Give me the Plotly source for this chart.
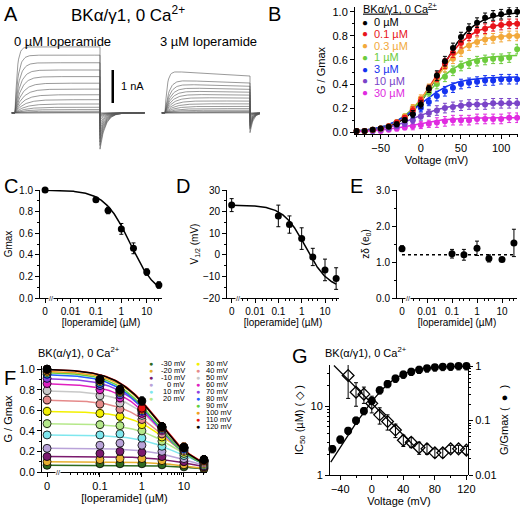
import numpy as np
import plotly.graph_objects as go

W, H = 520, 508
FONT = "Liberation Sans"

# ---------------- data ----------------
volt_B = [-80, -70, -60, -50, -40, -30, -20, -10, 0, 10, 20, 30, 40, 50, 60, 70, 80, 90, 100, 110, 120]
conc_labels = ["0 µM", "0.1 µM", "0.3 µM", "1 µM", "3 µM", "10 µM", "30 µM"]
conc_colors = ["#000000", "#e8141b", "#f2a93b", "#6ccb3c", "#1432f0", "#7a44c8", "#e02be0"]
gB = [
    [.01, .01, .02, .03, .045, .065, .10, .15, .23, .36, .47, .59, .70, .79, .86, .91, .95, .97, .98, 1.0, 1.0],
    [.01, .01, .02, .03, .05, .08, .12, .18, .26, .36, .46, .57, .66, .74, .80, .84, .86, .88, .89, .90, .90],
    [.01, .01, .02, .03, .05, .08, .13, .20, .28, .37, .45, .54, .61, .67, .72, .75, .77, .78, .79, .80, .80],
    [.01, .01, .02, .03, .05, .08, .13, .19, .26, .33, .40, .46, .51, .55, .57, .59, .60, .61, .61, .62, .69],
    [.01, .01, .02, .03, .05, .07, .11, .15, .20, .25, .30, .34, .37, .40, .41, .42, .43, .43, .44, .44, .44],
    [.01, .01, .01, .02, .03, .05, .07, .10, .13, .16, .18, .20, .21, .22, .23, .23, .23, .24, .24, .24, .24],
    [.005, .01, .01, .01, .02, .03, .04, .05, .06, .07, .08, .09, .10, .10, .10, .11, .11, .11, .11, .12, .12],
]
errB = [.01, .01, .01, .01, .01, .02, .02, .03, .03, .03, .04, .04, .04, .04, .04, .04, .04, .04, .04, .04, .04]

conc = [0, 0.1, 0.3, 1, 3, 10, 30]
gmax = [1.0, .91, .81, .64, .46, .24, .12]
gmax_err = [.01, .02, .03, .05, .05, .03, .03]
v_half = [23, 18, 14, 7.5, -1, -7, -11]
v_half_err = [3, 5, 4, 5, 4, 5, 5]
z_delta = [1.37, 1.23, 1.20, 1.38, 1.10, 1.07, 1.53]
z_delta_err = [.08, .12, .15, .20, .10, .05, .38]
z_boltz = 1.2

volt_F = [-30, -20, -10, 0, 10, 20, 30, 40, 50, 60, 70, 80, 90, 100, 110, 120]
colors_F = ["#2e6b1f", "#e8b030", "#7b1a6e", "#b9a3d9", "#7fe7ee", "#b5e88a", "#f3f000", "#e58a8a",
            "#c8c8c8", "#e020c0", "#9040e0", "#2060ff", "#60d040", "#f0a020", "#e81010", "#000000"]
ic50 = [28, 16, 15, 11, 7.5, 6, 4.5, 3.2, 3.0, 2.5, 2.4, 2.1, 2.1, 2.4, 2.4, 2.3]
ic50_err = [15, 6, 4, 3, 2, 1.5, 1, .6, .5, .5, .4, .3, .3, .3, .3, .3]
hill_F = 0.9

volt_G = [-50, -40, -30, -20, -10, 0, 10, 20, 30, 40, 50, 60, 70, 80, 90, 100, 110, 120]
g_G = [.03, .045, .065, .10, .15, .23, .36, .47, .59, .70, .79, .86, .91, .95, .97, .98, 1.0, 1.0]

amp_ctrl = [0, .02, .05, .1, .17, .27, .4, .55, .72, .9, 1.1, 1.3, 1.52, 1.75, 2.0]
amp_lop = [0, .02, .04, .08, .13, .2, .28, .37, .47, .57, .67, .77, .88, 1.0, 1.27]
tail_ctrl_peak = 1.1
tail_lop_peak = 0.6


def px(x, y):
    return x / W, 1 - y / H


def dom_x(a, b):
    return [a / W, b / W]


def dom_y(top, bot):
    return [1 - bot / H, 1 - top / H]


fig = go.Figure()
ann = []

# ---------------- A: current traces ----------------
t_on = np.linspace(0, 40, 120)
t_tail = np.linspace(0, 21, 80)
for block, amps, tailpk, off, droop in [(0, amp_ctrl, tail_ctrl_peak, 0, 0.0), (1, amp_lop, tail_lop_peak, 70.6, 0.12)]:
    amax = max(amps)
    for a in amps:
        tau = 1.0 + 4.0 * (1 - a / amax) if a > 0 else 3
        on = a * (1 - np.exp(-t_on / tau)) * (1 - droop * (t_on / 40) * (a / amax))
        tail = -tailpk * (a / amax) ** 0.8 * np.exp(-t_tail / (2.5 if block == 0 else 1.5))
        xs = np.concatenate([[-1.5 + off], t_on + off, t_tail + 40 + off])
        ys = np.concatenate([[0], on, tail])
        fig.add_trace(go.Scatter(x=xs, y=ys, mode="lines", line=dict(color="#555", width=0.6),
                                 xaxis="x", yaxis="y", showlegend=False, hoverinfo="skip"))
fig.add_trace(go.Scatter(x=[46, 46], y=[0.3, 1.3], mode="lines", line=dict(color="black", width=2.5),
                         xaxis="x", yaxis="y", showlegend=False))
ann.append(dict(x=49, y=0.8, xref="x", yref="y", text="1 nA", showarrow=False, xanchor="left",
                font=dict(size=11)))

# ---------------- B ----------------
vf = np.linspace(-80, 120, 200)
for i in range(7):
    fit = gmax[i] / (1 + np.exp(-z_boltz * (vf - v_half[i]) / 25.4))
    fig.add_trace(go.Scatter(x=vf, y=fit, mode="lines", line=dict(color=conc_colors[i], width=1.5),
                             xaxis="x2", yaxis="y2", showlegend=False))
for i in range(6, -1, -1):
    fig.add_trace(go.Scatter(x=volt_B, y=gB[i], mode="markers",
                             marker=dict(color=conc_colors[i], size=6),
                             error_y=dict(type="data", array=errB, color=conc_colors[i], thickness=1, width=2),
                             xaxis="x2", yaxis="y2", showlegend=False, cliponaxis=False))
bx, by = px(361, 8)
ann.append(dict(x=bx, y=by, xref="paper", yref="paper", text="<u>BKα/γ1, 0 Ca<sup>2+</sup></u>",
                showarrow=False, xanchor="left", font=dict(size=11)))
for i in range(7):
    x0, y0 = px(365, 22 + 11.8 * i)
    ann.append(dict(x=x0, y=y0, xref="paper", yref="paper", text="●", showarrow=False,
                    font=dict(size=10, color=conc_colors[i]), xanchor="center"))
    x1, _ = px(372, 0)
    ann.append(dict(x=x1, y=y0, xref="paper", yref="paper", text=conc_labels[i], showarrow=False,
                    font=dict(size=11, color=conc_colors[i]), xanchor="left"))

# ---------------- C, D, E ----------------
zero_CDE = 0.001
c_plot = [zero_CDE] + conc[1:]
cf = np.logspace(np.log10(zero_CDE), np.log10(30), 200)
fitC = 1 / (1 + (cf / 2.3) ** 0.85)
fitD = 23 - 39 * (cf / 1.5) ** 0.9 / (1 + (cf / 1.5) ** 0.9)
fig.add_trace(go.Scatter(x=cf, y=fitC, mode="lines", line=dict(color="black", width=1.5), xaxis="x3", yaxis="y3", showlegend=False))
fig.add_trace(go.Scatter(x=c_plot, y=gmax, mode="markers", marker=dict(color="black", size=7),
                         error_y=dict(type="data", array=gmax_err, color="black", thickness=1, width=2),
                         xaxis="x3", yaxis="y3", showlegend=False, cliponaxis=False))
fig.add_trace(go.Scatter(x=cf, y=fitD, mode="lines", line=dict(color="black", width=1.5), xaxis="x4", yaxis="y4", showlegend=False))
fig.add_trace(go.Scatter(x=c_plot, y=v_half, mode="markers", marker=dict(color="black", size=7),
                         error_y=dict(type="data", array=v_half_err, color="black", thickness=1, width=2),
                         xaxis="x4", yaxis="y4", showlegend=False, cliponaxis=False))
fig.add_trace(go.Scatter(x=[zero_CDE, 30], y=[1.2, 1.2], mode="lines", line=dict(color="black", width=1.5, dash="dot"),
                         xaxis="x5", yaxis="y5", showlegend=False))
fig.add_trace(go.Scatter(x=c_plot, y=z_delta, mode="markers", marker=dict(color="black", size=7),
                         error_y=dict(type="data", array=z_delta_err, color="black", thickness=1, width=2),
                         xaxis="x5", yaxis="y5", showlegend=False, cliponaxis=False))

# ---------------- F ----------------
zero_F = 0.0055
cF = [zero_F] + conc[1:]
cff = np.logspace(np.log10(zero_F), np.log10(30), 150)
for j in range(len(volt_F)):
    k = volt_B.index(volt_F[j])
    g0 = gB[0][k]
    fit = g0 / (1 + (cff / ic50[j]) ** hill_F)
    fig.add_trace(go.Scatter(x=cff, y=fit, mode="lines", line=dict(color=colors_F[j], width=1.5),
                             xaxis="x6", yaxis="y6", showlegend=False))
for j in range(len(volt_F)):
    k = volt_B.index(volt_F[j])
    ys = [gB[i][k] / gB[0][-1] for i in range(7)]
    fig.add_trace(go.Scatter(x=cF, y=ys, mode="markers",
                             marker=dict(color=colors_F[j], size=8, line=dict(color="black", width=0.8)),
                             error_y=dict(type="data", array=[errB[k]] * 7, color=colors_F[j], thickness=1, width=2),
                             xaxis="x6", yaxis="y6", showlegend=False, cliponaxis=False))
tx, ty = px(36, 352)
ann.append(dict(x=tx, y=ty, xref="paper", yref="paper", text="BK(α/γ1), 0 Ca<sup>2+</sup>", showarrow=False,
                xanchor="left", font=dict(size=11)))
for j in range(len(volt_F)):
    if j < 6:
        mx, lx, row = 151, 187, j
    else:
        mx, lx, row = 198, 204, j - 6
    yy = 363 + 7.1 * row
    a, b = px(mx, yy)
    ann.append(dict(x=a, y=b, xref="paper", yref="paper", text="●", showarrow=False,
                    font=dict(size=7, color=colors_F[j]), xanchor="center"))
    a, _ = px(lx, 0)
    ann.append(dict(x=a, y=b, xref="paper", yref="paper", text=f"{volt_F[j]} mV", showarrow=False,
                    font=dict(size=7.5), xanchor="right" if j < 6 else "left"))

# ---------------- G ----------------
vl = np.linspace(-48, 55, 50)
fig.add_trace(go.Scatter(x=vl, y=11 * 10 ** (-vl / 87), mode="lines", line=dict(color="black", width=1.3),
                         xaxis="x7", yaxis="y7", showlegend=False))
fig.add_trace(go.Scatter(x=volt_F, y=ic50, mode="markers",
                         marker=dict(symbol="diamond-open", color="black", size=9, line=dict(width=1.3)),
                         error_y=dict(type="data", array=ic50_err, color="black", thickness=1, width=2),
                         xaxis="x7", yaxis="y7", showlegend=False))
vg = np.linspace(-52, 121, 150)
fig.add_trace(go.Scatter(x=vg, y=1 / (1 + np.exp(-1.37 * (vg - 23) / 25.4)), mode="lines",
                         line=dict(color="black", width=1.3), xaxis="x7", yaxis="y8", showlegend=False))
fig.add_trace(go.Scatter(x=volt_G, y=g_G, mode="markers", marker=dict(color="black", size=8),
                         error_y=dict(type="data", array=[v * 0.15 for v in g_G], color="black", thickness=1, width=2),
                         xaxis="x7", yaxis="y8", showlegend=False, cliponaxis=False))
tx, ty = px(323, 352)
ann.append(dict(x=tx, y=ty, xref="paper", yref="paper", text="BK(α/γ1), 0 Ca<sup>2+</sup>", showarrow=False,
                xanchor="left", font=dict(size=11)))

# ---------------- text labels ----------------
for lab, x0, y0, s in [("A", 2, 14, 20), ("B", 266, 14, 20), ("C", 2, 186, 20), ("D", 174, 186, 20),
                       ("E", 348, 186, 20), ("F", 2, 378, 20), ("G", 290, 356, 20)]:
    a, b = px(x0, y0)
    ann.append(dict(x=a, y=b, xref="paper", yref="paper", text=lab, showarrow=False, xanchor="left",
                    font=dict(size=s)))
for txt, x0, y0, s in [("BKα/γ1, 0 Ca<sup>2+</sup>", 128, 14, 17), ("0 µM loperamide", 62, 42, 13),
                       ("3 µM loperamide", 208, 42, 13)]:
    a, b = px(x0, y0)
    ann.append(dict(x=a, y=b, xref="paper", yref="paper", text=txt, showarrow=False, font=dict(size=s)))
for x0 in [51, 238, 408]:
    a, b = px(x0, 298)
    ann.append(dict(x=a, y=b, xref="paper", yref="paper", text="//", showarrow=False, font=dict(size=7),
                    bgcolor="white", borderpad=0))
a, b = px(58, 472)
ann.append(dict(x=a, y=b, xref="paper", yref="paper", text="//", showarrow=False, font=dict(size=7),
                bgcolor="white", borderpad=0))
for a_ in ann:
    a_.setdefault("xanchor", "center")
    a_.setdefault("yanchor", "middle")

# ---------------- axes ----------------
ax = dict(showline=True, linecolor="black", linewidth=1, ticks="outside", ticklen=4, tickcolor="black",
          showgrid=False, zeroline=False, tickfont=dict(size=10, color="black"))
logticks_cde = dict(tickvals=[0.001, 0.01, 0.1, 1, 10], ticktext=["0", "0.01", "0.1", "1", "10"],
                    minor=dict(ticks="outside", ticklen=2, tickcolor="black",
                               tickvals=[0.002, 0.003, 0.005, 0.02, 0.03, 0.05, 0.2, 0.3, 0.5, 2, 3, 5, 20, 30]))
ttl = dict(font=dict(size=10))
big = dict(size=11, color="black")
layout = dict(
    width=W, height=H, margin=dict(l=0, r=0, t=0, b=0, autoexpand=False), paper_bgcolor="white",
    plot_bgcolor="white", font=dict(family=FONT, color="black"), annotations=ann,
    xaxis=dict(domain=[0, 0.5], range=[-7.06, 115.3], visible=False),
    yaxis=dict(domain=dom_y(40, 165), range=[-1.58, 2.21], visible=False),
    xaxis2=dict(ax, domain=dom_x(355, 518), range=[-82, 121], anchor="y2", tickvals=[-50, 0, 50, 100],
                tickfont=big, minor=dict(ticks="outside", ticklen=2, dtick=10, tickcolor="black"),
                title=dict(text="Voltage (mV)", standoff=0, font=big)),
    yaxis2=dict(ax, domain=dom_y(7, 134), range=[-0.015, 1.04], anchor="x2", tickvals=[0, .2, .4, .6, .8, 1.0],
                tickfont=big, tickformat=".1f", minor=dict(ticks="outside", ticklen=2, dtick=0.1, tickcolor="black"),
                title=dict(text="G / Gmax", standoff=4, font=big)),
    xaxis3=dict(ax, type="log", domain=dom_x(40, 162), range=[-3.2, 1.6], anchor="y3", **logticks_cde,
                title=dict(text="[loperamide] (µM)", standoff=2, **ttl)),
    yaxis3=dict(ax, domain=dom_y(190, 298), range=[0, 1.0], anchor="x3", tickvals=[0, .2, .4, .6, .8, 1.0],
                tickformat=".1f", minor=dict(ticks="outside", ticklen=2, dtick=0.1, tickcolor="black"),
                title=dict(text="Gmax", standoff=4, **ttl)),
    xaxis4=dict(ax, type="log", domain=dom_x(227, 339), range=[-3.2, 1.6], anchor="y4", **logticks_cde,
                title=dict(text="[loperamide] (µM)", standoff=2, **ttl)),
    yaxis4=dict(ax, domain=dom_y(190, 298), range=[-20, 30], anchor="x4", tickvals=[-20, -10, 0, 10, 20, 30],
                minor=dict(ticks="outside", ticklen=2, dtick=5, tickcolor="black"),
                title=dict(text="V<sub>1/2</sub> (mV)", standoff=2, **ttl)),
    xaxis5=dict(ax, type="log", domain=dom_x(397, 517), range=[-3.2, 1.6], anchor="y5", **logticks_cde,
                title=dict(text="[loperamide] (µM)", standoff=2, **ttl)),
    yaxis5=dict(ax, domain=dom_y(190, 298), range=[0, 3], anchor="x5", tickvals=[0, 1, 2, 3], tickformat=".1f",
                minor=dict(ticks="outside", ticklen=2, dtick=0.5, tickcolor="black"),
                title=dict(text="zδ (e<sub>0</sub>)", standoff=4, **ttl)),
    xaxis6=dict(ax, type="log", domain=dom_x(42, 207), range=[-2.38, 1.55], anchor="y6",
                tickvals=[zero_F, 0.1, 1, 10], ticktext=["0", "0.1", "1", "10"], tickfont=big,
                minor=dict(ticks="outside", ticklen=2, tickcolor="black",
                           tickvals=[0.02, 0.03, 0.04, 0.05, 0.06, 0.07, 0.08, 0.09, 0.2, 0.3, 0.4, 0.5, 0.6, 0.7,
                                     0.8, 0.9, 2, 3, 4, 5, 6, 7, 8, 9, 20, 30]),
                title=dict(text="[loperamide] (µM)", standoff=0, font=big)),
    yaxis6=dict(ax, domain=dom_y(366, 472), range=[0, 1.03], anchor="x6", tickvals=[0, .2, .4, .6, .8, 1.0],
                tickformat=".1f", tickfont=big, minor=dict(ticks="outside", ticklen=2, dtick=0.1, tickcolor="black"),
                title=dict(text="G / Gmax", standoff=4, font=big)),
    xaxis7=dict(ax, domain=dom_x(330, 468), range=[-53, 122], anchor="y7", tickvals=[-40, 0, 40, 80, 120],
                tickfont=big, minor=dict(ticks="outside", ticklen=2, dtick=20, tickcolor="black"),
                title=dict(text="Voltage (mV)", standoff=0, font=big)),
    yaxis7=dict(ax, type="log", domain=dom_y(365, 475), range=[0, 1.6], anchor="x7", tickvals=[1, 10],
                ticktext=["1", "10"], tickfont=big,
                minor=dict(ticks="outside", ticklen=2, tickcolor="black",
                           tickvals=[2, 3, 4, 5, 6, 7, 8, 9, 20, 30]),
                title=dict(text="IC<sub>50</sub> (µM) ( ◇ )", standoff=4, font=big)),
    yaxis8=dict(ax, type="log", domain=dom_y(365, 475), range=[-2, 0.02], anchor="free", overlaying="y7",
                side="right", position=468 / W, tickvals=[0.01, 0.1, 1], ticktext=["0.01", "0.1", "1"],
                tickfont=big,
                minor=dict(ticks="outside", ticklen=2, tickcolor="black",
                           tickvals=[0.02, 0.03, 0.04, 0.05, 0.06, 0.07, 0.08, 0.09, 0.2, 0.3, 0.4, 0.5, 0.6, 0.7, 0.8, 0.9]),
                title=dict(text="G/Gmax (  ●  )", standoff=4, font=big)),
)
fig.update_layout(**layout)
fig.write_html("out.html", config={"displayModeBar": False},
               post_script="document.body.style.margin='0';document.body.style.padding='0';"
                           "document.documentElement.style.overflow='hidden';")
